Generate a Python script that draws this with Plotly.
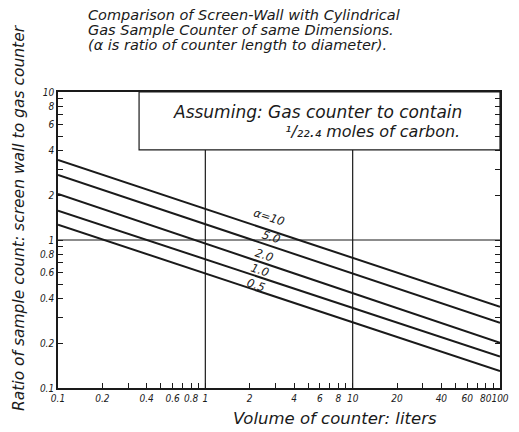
import numpy as np
import plotly.graph_objects as go

# --- data ---
alphas = ["α=10", "5.0", "2.0", "1.0", "0.5"]
volume_ends = [0.1, 100]
ratio_start = [3.47, 2.75, 2.05, 1.58, 1.27]
ratio_end = [0.354, 0.276, 0.202, 0.163, 0.130]

label_x = [2.7, 2.8, 2.5, 2.35, 2.2]
label_y = [1.42, 1.04, 0.79, 0.63, 0.50]

x_tick_vals = [0.1, 0.2, 0.3, 0.4, 0.5, 0.6, 0.7, 0.8, 0.9,
               1, 2, 3, 4, 5, 6, 7, 8, 9,
               10, 20, 30, 40, 50, 60, 70, 80, 90, 100]
x_tick_text = ["0.1", "0.2", "", "0.4", "", "0.6", "", "0.8", "",
               "1", "2", "", "4", "", "6", "", "8", "",
               "10", "20", "", "40", "", "60", "", "80", "", "100"]
y_tick_vals = [0.1, 0.2, 0.3, 0.4, 0.5, 0.6, 0.7, 0.8, 0.9,
               1, 2, 3, 4, 5, 6, 7, 8, 9, 10]
y_tick_text = ["0.1", "0.2", "", "0.4", "", "0.6", "", "0.8", "",
               "1", "2", "", "4", "", "6", "", "8", "", "10"]

grid_x = [1, 10]
grid_y = [1]
box_left = 0.355
box_bottom = 4.06

title_lines = ["Comparison of Screen-Wall with Cylindrical",
               "Gas Sample Counter of same Dimensions.",
               "(α is ratio of counter length to diameter)."]
box_lines = ["Assuming: Gas counter to contain",
             "¹/₂₂.₄ moles of carbon."]
x_title = "Volume of counter: liters"
y_title = "Ratio of sample count: screen wall to gas counter"

INK = "#1a1a1a"
FONT = "DejaVu Sans"
TICKFONT = "DejaVu Sans Condensed, Liberation Sans Narrow, DejaVu Sans"

# page offset (browser body margin) and plot-area geometry in window pixels
OFF = 8
W, H = 519 - OFF, 432 - OFF
L, T = 58 - OFF, 92 - OFF
R, B = W - (500 - OFF), H - (388 - OFF)
PW, PH = W - L - R, H - T - B


def px(xp):
    return (xp - OFF - L) / PW


def py(yp):
    return (H - B - (yp - OFF)) / PH


fig = go.Figure()
for name, r0, r1 in zip(alphas, ratio_start, ratio_end):
    fig.add_trace(go.Scatter(x=volume_ends, y=[r0, r1], mode="lines",
                             line=dict(color=INK, width=2), name=name,
                             showlegend=False, hoverinfo="skip"))

shapes = []
for gx in grid_x:
    shapes.append(dict(type="line", xref="x", yref="y", x0=gx, x1=gx,
                       y0=0.1, y1=box_bottom, line=dict(color=INK, width=1.2)))
for gy in grid_y:
    shapes.append(dict(type="line", xref="x", yref="y", x0=0.1, x1=100,
                       y0=gy, y1=gy, line=dict(color=INK, width=1.2)))
shapes.append(dict(type="rect", xref="x", yref="y", x0=box_left, x1=100,
                   y0=box_bottom, y1=10, line=dict(color=INK, width=1.2)))

annotations = []
for txt, lx, ly in zip(alphas, label_x, label_y):
    annotations.append(dict(x=np.log10(lx), y=np.log10(ly), xref="x", yref="y",
                            text=txt, showarrow=False, textangle=18,
                            font=dict(family=FONT, size=11.5, color=INK, style="italic")))
for i, t in enumerate(title_lines):
    annotations.append(dict(x=px(86), y=py(15 + 15 * i), xref="paper", yref="paper",
                            yanchor="middle", xanchor="left", text=t, showarrow=False,
                            font=dict(family=FONT, size=14.5, color=INK, style="italic")))
annotations.append(dict(x=px(464), y=py(112), xref="paper", yref="paper",
                        xanchor="right", yanchor="middle", text=box_lines[0], showarrow=False,
                        font=dict(family=FONT, size=17, color=INK, style="italic")))
annotations.append(dict(x=px(462), y=py(131), xref="paper", yref="paper",
                        xanchor="right", yanchor="middle", text=box_lines[1], showarrow=False,
                        font=dict(family=FONT, size=16, color=INK, style="italic")))
annotations.append(dict(x=px(335), y=py(418), xref="paper", yref="paper",
                        xanchor="center", yanchor="middle", text=x_title, showarrow=False,
                        font=dict(family=FONT, size=16.5, color=INK, style="italic")))
annotations.append(dict(x=px(19), y=py(218), xref="paper", yref="paper",
                        xanchor="center", yanchor="middle", text=y_title, showarrow=False,
                        textangle=-90,
                        font=dict(family=FONT, size=15.5, color=INK, style="italic")))

axis_common = dict(type="log", showgrid=False, zeroline=False, showline=True,
                   linecolor=INK, linewidth=1.6, ticks="inside", ticklen=5,
                   tickcolor=INK, tickwidth=1, automargin=False, tickangle=0,
                   tickfont=dict(family=TICKFONT, size=10, color=INK, style="italic"))

fig.update_layout(
    width=W, height=H,
    margin=dict(l=L, r=R, t=T, b=B, autoexpand=False),
    paper_bgcolor="white", plot_bgcolor="white",
    shapes=shapes, annotations=annotations,
    xaxis=dict(range=[-1, 2], tickmode="array", tickvals=x_tick_vals,
               ticktext=x_tick_text, mirror=True, **axis_common),
    yaxis=dict(range=[-1, 1], tickmode="array", tickvals=y_tick_vals,
               ticktext=y_tick_text, mirror="allticks", **axis_common),
)

fig.write_html("out.html")
